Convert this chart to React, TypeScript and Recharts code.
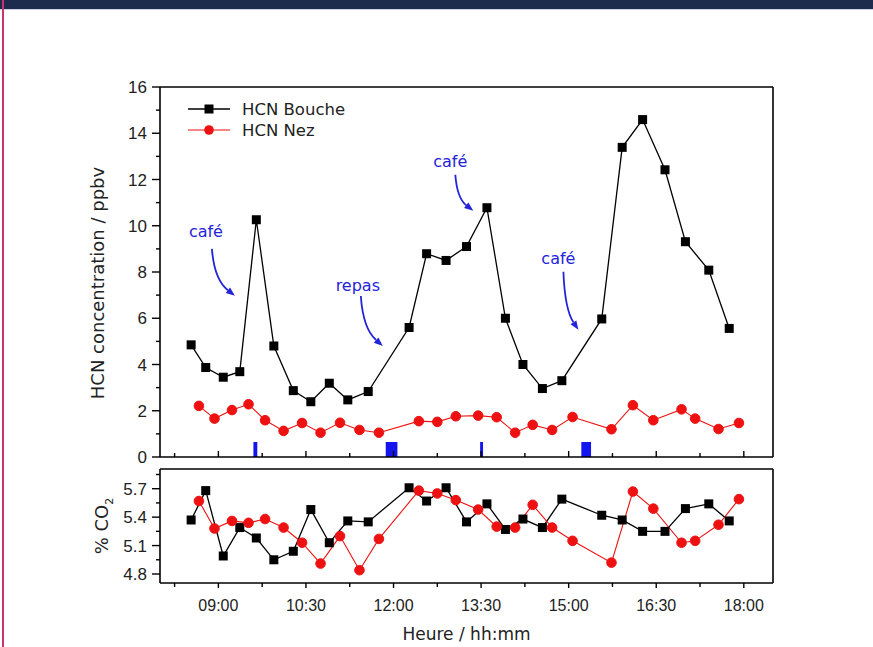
import React from 'react';
import { LineChart, Line, XAxis, YAxis, ReferenceArea, ReferenceDot } from 'recharts';

// time of each sample (hh:mm)
const boucheTimes = ['08:32', '08:47', '09:05', '09:22', '09:39', '09:57', '10:17', '10:35', '10:54', '11:13', '11:34', '12:16', '12:34', '12:54', '13:15', '13:36', '13:55', '14:13', '14:33', '14:53', '15:34', '15:55', '16:16', '16:39', '17:00', '17:24', '17:45'];
const nezTimes = ['08:40', '08:56', '09:14', '09:31', '09:48', '10:07', '10:26', '10:45', '11:05', '11:25', '11:45', '12:26', '12:45', '13:04', '13:27', '13:46', '14:05', '14:23', '14:43', '15:04', '15:44', '16:06', '16:27', '16:56', '17:10', '17:34', '17:55'];

// HCN, ppbv
const boucheHcn = [4.85, 3.87, 3.45, 3.69, 10.26, 4.8, 2.87, 2.39, 3.19, 2.47, 2.83, 5.6, 8.79, 8.5, 9.1, 10.78, 6.0, 4.0, 2.96, 3.3, 5.97, 13.39, 14.59, 12.42, 9.31, 8.08, 5.56];
const nezHcn = [2.21, 1.66, 2.03, 2.28, 1.59, 1.13, 1.47, 1.05, 1.48, 1.17, 1.05, 1.55, 1.52, 1.76, 1.79, 1.72, 1.05, 1.39, 1.17, 1.73, 1.2, 2.24, 1.59, 2.06, 1.66, 1.21, 1.47];

// % CO2
const boucheCo2 = [5.37, 5.68, 4.99, 5.29, 5.18, 4.95, 5.04, 5.48, 5.13, 5.36, 5.35, 5.71, 5.57, 5.71, 5.35, 5.54, 5.27, 5.38, 5.29, 5.59, 5.42, 5.37, 5.25, 5.25, 5.49, 5.54, 5.36];
const nezCo2 = [5.57, 5.28, 5.36, 5.34, 5.38, 5.29, 5.13, 4.91, 5.2, 4.84, 5.17, 5.68, 5.65, 5.58, 5.48, 5.3, 5.29, 5.53, 5.29, 5.15, 4.92, 5.67, 5.49, 5.13, 5.15, 5.32, 5.59];

// coffee / meal periods
const eventStarts = ['09:36', '11:52', '13:29', '15:13'];
const eventEnds = ['09:40', '12:04', '13:32', '15:23'];
const eventHeight = 0.65;

// annotations (arrow tip)
const annoLabels = ['café', 'repas', 'café', 'café'];
const annoTimes = ['09:17', '11:49', '13:22', '15:10'];
const annoValues = [6.97, 4.8, 10.65, 5.5];

const xTicks = ['08:15', '09:00', '09:45', '10:30', '11:15', '12:00', '12:45', '13:30', '14:15', '15:00', '15:45', '16:30', '17:15', '18:00'];
const xMajor = ['09:00', '10:30', '12:00', '13:30', '15:00', '16:30', '18:00'];
const hcnTicks = [0, 1, 2, 3, 4, 5, 6, 7, 8, 9, 10, 11, 12, 13, 14, 15, 16];
const hcnMajor = [0, 2, 4, 6, 8, 10, 12, 14, 16];
const co2Ticks = [4.8, 4.95, 5.1, 5.25, 5.4, 5.55, 5.7, 5.85];
const co2Major = [4.8, 5.1, 5.4, 5.7];

const seriesNames = ['HCN Bouche', 'HCN Nez'];

const toMin = (s: string) => {
  const [h, m] = s.split(':').map(Number);
  return h * 60 + m;
};
const fmtTime = (v: number) => {
  const h = Math.floor(v / 60);
  const m = v % 60;
  return `${String(h).padStart(2, '0')}:${String(m).padStart(2, '0')}`;
};

const X_DOMAIN = [toMin('08:00'), toMin('18:30')];
const xTickVals = xTicks.map(toMin);
const xMajorVals = xMajor.map(toMin);

const boucheTop = boucheTimes.map((t, i) => ({ t: toMin(t), v: boucheHcn[i] }));
const nezTop = nezTimes.map((t, i) => ({ t: toMin(t), v: nezHcn[i] }));
const boucheBottom = boucheTimes.map((t, i) => ({ t: toMin(t), v: boucheCo2[i] }));
const nezBottom = nezTimes.map((t, i) => ({ t: toMin(t), v: nezCo2[i] }));

const BLACK = '#000';
const RED = '#ee1111';
const BLUE = '#2323d8';
const TICK_FONT = '"Liberation Sans", Arial, sans-serif';
const TITLE_FONT = '"DejaVu Sans", sans-serif';

// annotation text / arrow start relative to the arrow tip
const annoLayout = [
  { tdx: -29, tdy: -64, sdx: -23, sdy: -47 },
  { tdx: -25, tdy: -61, sdx: -22, sdy: -50 },
  { tdx: -23, tdy: -49, sdx: -18, sdy: -36 },
  { tdx: -20, tdy: -71, sdx: -15, sdy: -58 },
];

type Side = 'left' | 'right' | 'top' | 'bottom';
type TickOpts = {
  side: Side;
  inward: boolean;
  major: number[];
  majorLen: number;
  minorLen: number;
  label?: (v: number) => string;
  fontSize?: number;
};

const near = (arr: number[], v: number) => arr.some((a) => Math.abs(a - v) < 1e-6);

const makeTick = (o: TickOpts) => (p: any) => {
  const { x, y, payload } = p;
  const v = payload.value;
  const isMajor = near(o.major, v);
  const len = isMajor ? o.majorLen : o.minorLen;
  const out = o.inward ? -1 : 1;
  let x2 = x;
  let y2 = y;
  if (o.side === 'bottom') y2 = y + out * len;
  else if (o.side === 'top') y2 = y - out * len;
  else if (o.side === 'left') x2 = x - out * len;
  else x2 = x + out * len;
  const text = isMajor && o.label ? o.label(v) : null;
  return (
    <g>
      <line x1={x} y1={y} x2={x2} y2={y2} stroke={BLACK} strokeWidth={1.4} />
      {text && o.side === 'bottom' && (
        <text x={x} y={y + 28} textAnchor="middle" fontSize={o.fontSize} fontFamily={TICK_FONT} fill="#222">
          {text}
        </text>
      )}
      {text && o.side === 'left' && (
        <text x={x - 13} y={y} dy="0.36em" textAnchor="end" fontSize={o.fontSize} fontFamily={TICK_FONT} fill="#222">
          {text}
        </text>
      )}
    </g>
  );
};

const SquareDot = (p: any) => {
  const { cx, cy } = p;
  if (cx == null || cy == null) return null;
  return <rect x={cx - 4.5} y={cy - 4.5} width={9} height={9} fill={BLACK} />;
};

const CircleDot = (p: any) => {
  const { cx, cy } = p;
  if (cx == null || cy == null) return null;
  return <circle cx={cx} cy={cy} r={4.8} fill={RED} stroke={RED} />;
};

const Annotation = (p: any) => {
  const { cx, cy, text, lay } = p;
  if (cx == null || cy == null) return null;
  const sx = cx + lay.sdx;
  const sy = cy + lay.sdy;
  const qx = sx + (cx - sx) * 0.1;
  const qy = sy + (cy - sy) * 0.65;
  const dx = cx - qx;
  const dy = cy - qy;
  const d = Math.hypot(dx, dy) || 1;
  const ux = dx / d;
  const uy = dy / d;
  const bx = cx - ux * 9;
  const by = cy - uy * 9;
  return (
    <g>
      <text x={cx + lay.tdx} y={cy + lay.tdy} dy="0.35em" textAnchor="middle" fontSize={16} fontFamily={TITLE_FONT} fill={BLUE}>
        {text}
      </text>
      <path d={`M${sx},${sy} Q${qx},${qy} ${bx},${by}`} fill="none" stroke={BLUE} strokeWidth={1.8} />
      <polygon
        points={`${cx},${cy} ${bx - uy * 3.5},${by + ux * 3.5} ${bx + uy * 3.5},${by - ux * 3.5}`}
        fill={BLUE}
      />
    </g>
  );
};

const axisLine = { stroke: BLACK, strokeWidth: 1.6 };

const HcnTitle = (p: any) => {
  const vb = p.viewBox;
  const x = vb.x - 2;
  const y = 283;
  return (
    <text x={x} y={y} transform={`rotate(-90 ${x} ${y})`} textAnchor="middle" dy="0.35em" fontSize={18} fontFamily={TITLE_FONT} fill="#222">
      HCN concentration / ppbv
    </text>
  );
};

const Co2Title = (p: any) => {
  const vb = p.viewBox;
  const x = vb.x + 2;
  const y = vb.y + vb.height / 2;
  return (
    <text x={x} y={y} transform={`rotate(-90 ${x} ${y})`} textAnchor="middle" dy="0.35em" fontSize={18} fontFamily={TITLE_FONT} fill="#222">
      % CO<tspan dy={5} fontSize={11}>2</tspan>
    </text>
  );
};

const TimeTitle = (p: any) => {
  const vb = p.viewBox;
  return (
    <text x={vb.x + vb.width / 2} y={vb.y + 57} textAnchor="middle" fontSize={17} fontFamily={TITLE_FONT} fill="#222">
      Heure / hh:mm
    </text>
  );
};

export default function App() {
  return (
    <div style={{ position: 'absolute', left: 0, top: 0, width: 873, height: 647, background: '#fff', overflow: 'hidden' }}>
      <div style={{ position: 'absolute', left: 0, top: 0, width: 873, height: 9, background: '#1d2b4d' }} />
      <div style={{ position: 'absolute', left: 0, top: 9, width: 873, height: 1, background: '#c7d2e6' }} />
      <div style={{ position: 'absolute', left: 2, top: 0, width: 2, height: 647, background: '#c9336f' }} />

      <div style={{ position: 'absolute', left: 0, top: 0 }}>
        <LineChart width={873} height={470} margin={{ top: 86, right: 99, bottom: 12, left: 100 }}>
          <XAxis
            dataKey="t"
            type="number"
            domain={X_DOMAIN}
            ticks={xTickVals}
            interval={0}
            height={1}
            axisLine={axisLine}
            tickLine={false}
            tickSize={0}
            tickMargin={0}
            tick={makeTick({ side: 'bottom', inward: true, major: xMajorVals, majorLen: 6, minorLen: 4 })}
          />
          <XAxis
            xAxisId="top"
            orientation="top"
            type="number"
            domain={X_DOMAIN}
            ticks={xMajorVals}
            interval={0}
            height={1}
            axisLine={axisLine}
            tickLine={false}
            tickSize={0}
            tickMargin={0}
            tick={makeTick({ side: 'top', inward: true, major: xMajorVals, majorLen: 6, minorLen: 6 })}
          />
          <YAxis
            type="number"
            domain={[0, 16]}
            ticks={hcnTicks}
            interval={0}
            width={60}
            axisLine={axisLine}
            tickLine={false}
            tickSize={0}
            tickMargin={0}
            tick={makeTick({ side: 'left', inward: false, major: hcnMajor, majorLen: 8, minorLen: 4, label: (v) => String(v), fontSize: 17 })}
            label={HcnTitle}
          />
          <YAxis
            yAxisId="r"
            orientation="right"
            type="number"
            domain={[0, 16]}
            ticks={hcnMajor}
            interval={0}
            width={1}
            axisLine={axisLine}
            tickLine={false}
            tickSize={0}
            tickMargin={0}
            tick={makeTick({ side: 'right', inward: true, major: hcnMajor, majorLen: 5, minorLen: 5 })}
          />
          {eventStarts.map((s, i) => (
            <ReferenceArea key={s} x1={toMin(s)} x2={toMin(eventEnds[i])} y1={0} y2={eventHeight} fill="#1414ee" fillOpacity={1} stroke="none" />
          ))}
          <Line
            data={boucheTop}
            dataKey="v"
            name={seriesNames[0]}
            type="linear"
            stroke={BLACK}
            strokeWidth={1.3}
            dot={<SquareDot />}
            activeDot={false}
            isAnimationActive={false}
          />
          <Line
            data={nezTop}
            dataKey="v"
            name={seriesNames[1]}
            type="linear"
            stroke={RED}
            strokeWidth={1.1}
            dot={<CircleDot />}
            activeDot={false}
            isAnimationActive={false}
          />
          {annoLabels.map((lab, i) => (
            <ReferenceDot
              key={i}
              x={toMin(annoTimes[i])}
              y={annoValues[i]}
              r={1}
              shape={(p: any) => <Annotation {...p} text={lab} lay={annoLayout[i]} />}
            />
          ))}
        </LineChart>
      </div>

      <svg width={200} height={50} style={{ position: 'absolute', left: 180, top: 96 }}>
        <line x1={8} y1={13} x2={50} y2={13} stroke={BLACK} strokeWidth={1.4} />
        <rect x={24.5} y={8.5} width={9} height={9} fill={BLACK} />
        <text x={62} y={13} dy="0.36em" fontSize={16.5} fontFamily={TITLE_FONT} fill="#222">
          {seriesNames[0]}
        </text>
        <line x1={8} y1={34} x2={50} y2={34} stroke={RED} strokeWidth={1.1} />
        <circle cx={29} cy={34} r={4.8} fill={RED} />
        <text x={62} y={34} dy="0.36em" fontSize={16.5} fontFamily={TITLE_FONT} fill="#222">
          {seriesNames[1]}
        </text>
      </svg>

      <div style={{ position: 'absolute', left: 0, top: 462 }}>
        <LineChart width={873} height={185} margin={{ top: 6, right: 99, bottom: 34, left: 100 }}>
          <XAxis
            dataKey="t"
            type="number"
            domain={X_DOMAIN}
            ticks={xTickVals}
            interval={0}
            height={30}
            axisLine={axisLine}
            tickLine={false}
            tickSize={0}
            tickMargin={0}
            tick={makeTick({ side: 'bottom', inward: false, major: xMajorVals, majorLen: 5, minorLen: 4, label: fmtTime, fontSize: 16 })}
            label={TimeTitle}
          />
          <XAxis
            xAxisId="top"
            orientation="top"
            type="number"
            domain={X_DOMAIN}
            ticks={xMajorVals}
            interval={0}
            height={1}
            axisLine={axisLine}
            tickLine={false}
            tickSize={0}
            tickMargin={0}
            tick={makeTick({ side: 'top', inward: true, major: xMajorVals, majorLen: 5, minorLen: 5 })}
          />
          <YAxis
            type="number"
            domain={[4.705, 5.908]}
            ticks={co2Ticks}
            interval={0}
            width={60}
            axisLine={axisLine}
            tickLine={false}
            tickSize={0}
            tickMargin={0}
            tick={makeTick({ side: 'left', inward: false, major: co2Major, majorLen: 8, minorLen: 4, label: (v) => v.toFixed(1), fontSize: 17 })}
            label={Co2Title}
          />
          <YAxis
            yAxisId="r"
            orientation="right"
            type="number"
            domain={[4.705, 5.908]}
            ticks={co2Major}
            interval={0}
            width={1}
            axisLine={axisLine}
            tickLine={false}
            tickSize={0}
            tickMargin={0}
            tick={makeTick({ side: 'right', inward: true, major: co2Major, majorLen: 5, minorLen: 5 })}
          />
          <Line
            data={boucheBottom}
            dataKey="v"
            name={seriesNames[0]}
            type="linear"
            stroke={BLACK}
            strokeWidth={1.3}
            dot={<SquareDot />}
            activeDot={false}
            isAnimationActive={false}
          />
          <Line
            data={nezBottom}
            dataKey="v"
            name={seriesNames[1]}
            type="linear"
            stroke={RED}
            strokeWidth={1.1}
            dot={<CircleDot />}
            activeDot={false}
            isAnimationActive={false}
          />
        </LineChart>
      </div>
    </div>
  );
}
